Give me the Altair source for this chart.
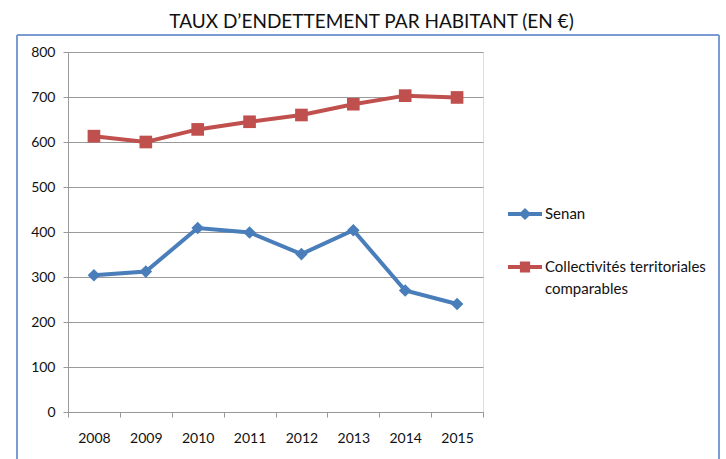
import altair as alt
import pandas as pd

years = ["2008", "2009", "2010", "2011", "2012", "2013", "2014", "2015"]
senan = [304, 312, 409, 399, 351, 404, 270, 240]
collectivites = [613, 600, 628, 645, 660, 684, 703, 699]
series_names = ["Senan", "Collectivités territoriales comparables"]
colors = ["#4a7ebb", "#c0504d"]

rows = []
for y, v in zip(years, senan):
    rows.append({"annee": y, "valeur": v, "serie": series_names[0]})
for y, v in zip(years, collectivites):
    rows.append({"annee": y, "valeur": v, "serie": series_names[1]})
df = pd.DataFrame(rows)

FONT = "Lato"

x_enc = alt.X("annee:N", sort=years, title=None,
              scale=alt.Scale(paddingInner=0, paddingOuter=0),
              axis=alt.Axis(labelAngle=0, tickBand="extent", domainColor="#999999",
                            tickColor="#999999", tickSize=5, labelPadding=14,
                            labelFont=FONT, labelFontSize=14, labelColor="#111111",
                            grid=False))
y_enc = alt.Y("valeur:Q", title=None,
              scale=alt.Scale(domain=[0, 800], nice=False),
              axis=alt.Axis(values=list(range(0, 801, 100)), domainColor="#999999",
                            tickColor="#999999", tickSize=5, labelPadding=8,
                            gridColor="#9a9a9a", gridWidth=1,
                            labelFont=FONT, labelFontSize=14, labelColor="#111111"))
color_scale = alt.Scale(domain=series_names, range=colors)

border = alt.Chart(df).mark_rect(fill=None, stroke="#7a9bd3", strokeWidth=1).encode(
    x=alt.value(-51), x2=alt.value(651), y=alt.value(-17), y2=alt.value(430)
)

lines = alt.Chart(df).mark_line(strokeWidth=4).encode(
    x=x_enc, y=y_enc,
    color=alt.Color("serie:N", scale=color_scale, legend=None),
    detail="serie:N",
)

points = alt.Chart(df).mark_point(filled=True, opacity=1, size=160).encode(
    x=x_enc, y=y_enc,
    color=alt.Color("serie:N", scale=color_scale, legend=None),
    shape=alt.Shape("serie:N", scale=alt.Scale(domain=series_names, range=["diamond", "square"]),
                    legend=None),
)

diamond_path = "M-1,-0.12H-0.24L0,-0.36L0.24,-0.12H1V0.12H0.24L0,0.36L-0.24,0.12H-1Z"
square_path = "M-1,-0.12H-0.3V-0.32H0.3V-0.12H1V0.12H0.3V0.32H-0.3V0.12H-1Z"

leg = alt.Legend(
    title=None, orient="none", legendX=440, legendY=145,
    symbolSize=1156, symbolOpacity=1, symbolStrokeWidth=0,
    labelFont=FONT, labelFontSize=15, labelColor="#111111",
    labelOffset=3, rowPadding=28, labelLimit=300,
    labelExpr="datum.label == 'Senan' ? 'Senan' : ['Collectivités territoriales', 'comparables']",
)

legend_layer = alt.Chart(df).mark_point(filled=True, opacity=0).encode(
    x=x_enc, y=y_enc,
    color=alt.Color("serie:N", scale=alt.Scale(domain=series_names, range=colors), legend=leg),
    shape=alt.Shape(
        "serie:N",
        scale=alt.Scale(domain=series_names, range=[diamond_path, square_path]),
        legend=leg,
    ),
)

chart = alt.layer(border, lines, points, legend_layer).resolve_scale(
    shape="independent", color="independent"
).properties(
    width=415, height=360,
    padding={"left": 68, "top": 52, "right": 243, "bottom": 47},
    autosize=alt.AutoSizeParams(type="none"),
    title=alt.Title("TAUX D’ENDETTEMENT PAR HABITANT (EN €)", font=FONT, fontSize=19,
                    fontWeight="normal", color="#111111", anchor="middle", dx=96, dy=26,
                    baseline="alphabetic", offset=14),
).configure_view(stroke=None).configure(style={"guide-label": {"lineHeight": 22}})

chart.save("out.html", embed_options={"renderer": "svg", "actions": False})
